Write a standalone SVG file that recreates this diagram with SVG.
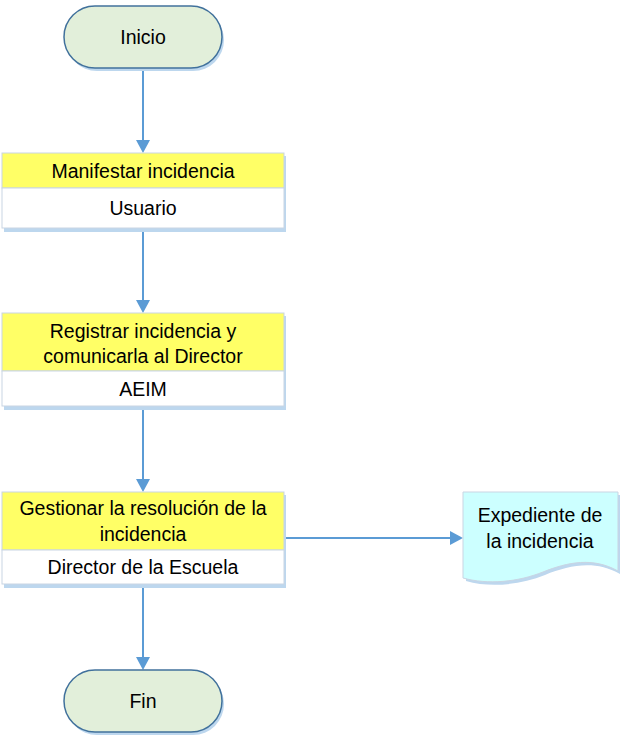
<svg xmlns="http://www.w3.org/2000/svg" width="620" height="737" viewBox="0 0 620 737">
<style>
  text { font-family: "Liberation Sans", Arial, sans-serif; font-size: 19.5px; fill: #000; text-anchor: middle; dominant-baseline: central; }
  .term { fill: #e2efda; stroke: #41719c; stroke-width: 1.5; }
  .shadow { fill: #bdd7ee; stroke: none; }
  .title { fill: #ffff66; stroke: #c9d5e3; stroke-width: 1; }
  .role { fill: #ffffff; stroke: #c9d5e3; stroke-width: 1; }
  .doc { fill: #ccffff; stroke: #c9d5e3; stroke-width: 1; }
  .conn { stroke: #5b9bd5; stroke-width: 2; fill: none; }
  .head { fill: #5b9bd5; }
</style>
<g id="connectors">
  <line class="conn" x1="143" y1="68" x2="143" y2="141"/>
  <path class="head" d="M136,140 L150,140 L143,153 z"/>
  <line class="conn" x1="143" y1="229" x2="143" y2="301"/>
  <path class="head" d="M136,300 L150,300 L143,313 z"/>
  <line class="conn" x1="143" y1="406" x2="143" y2="480"/>
  <path class="head" d="M136,479 L150,479 L143,492 z"/>
  <line class="conn" x1="143" y1="584" x2="143" y2="658"/>
  <path class="head" d="M136,657 L150,657 L143,670 z"/>
  <line class="conn" x1="284" y1="538" x2="451" y2="538"/>
  <path class="head" d="M450,531 L450,545 L463,538 z"/>
</g>
<g id="inicio">
  <rect class="shadow" x="66" y="9" width="158" height="62" rx="31"/>
  <rect class="term" x="64" y="6" width="158" height="62" rx="31"/>
  <text x="143" y="37">Inicio</text>
</g>
<g id="manifestar">
  <rect class="shadow" x="4" y="156" width="282" height="76"/>
  <rect class="title" x="2" y="153" width="282" height="35"/>
  <rect class="role" x="2" y="188" width="282" height="40"/>
  <text x="143" y="170.5">Manifestar incidencia</text>
  <text x="143" y="208">Usuario</text>
</g>
<g id="registrar">
  <rect class="shadow" x="4" y="316" width="282" height="94"/>
  <rect class="title" x="2" y="313" width="282" height="58"/>
  <rect class="role" x="2" y="371" width="282" height="35"/>
  <text x="143" y="331">Registrar incidencia y</text>
  <text x="143" y="356">comunicarla al Director</text>
  <text x="143" y="389">AEIM</text>
</g>
<g id="gestionar">
  <rect class="shadow" x="4" y="495" width="282" height="93"/>
  <rect class="title" x="2" y="492" width="282" height="58"/>
  <rect class="role" x="2" y="550" width="282" height="34"/>
  <text x="143" y="508">Gestionar la resolución de la</text>
  <text x="143" y="534">incidencia</text>
  <text x="143" y="567">Director de la Escuela</text>
</g>
<g id="expediente">
  <path class="shadow" d="M466,495 L620,495 L620,574 C595,560 570,565 545,575 C520,585 490,588 466,581 z"/>
  <path class="doc" d="M463,492 L618,492 L618,571 C593,557 568,562 543,572 C518,582 488,585 463,578 z"/>
  <text x="540" y="515">Expediente de</text>
  <text x="540" y="541">la incidencia</text>
</g>
<g id="fin">
  <rect class="shadow" x="66" y="673" width="158" height="62" rx="31"/>
  <rect class="term" x="64" y="670" width="158" height="62" rx="31"/>
  <text x="143" y="701">Fin</text>
</g>
</svg>
